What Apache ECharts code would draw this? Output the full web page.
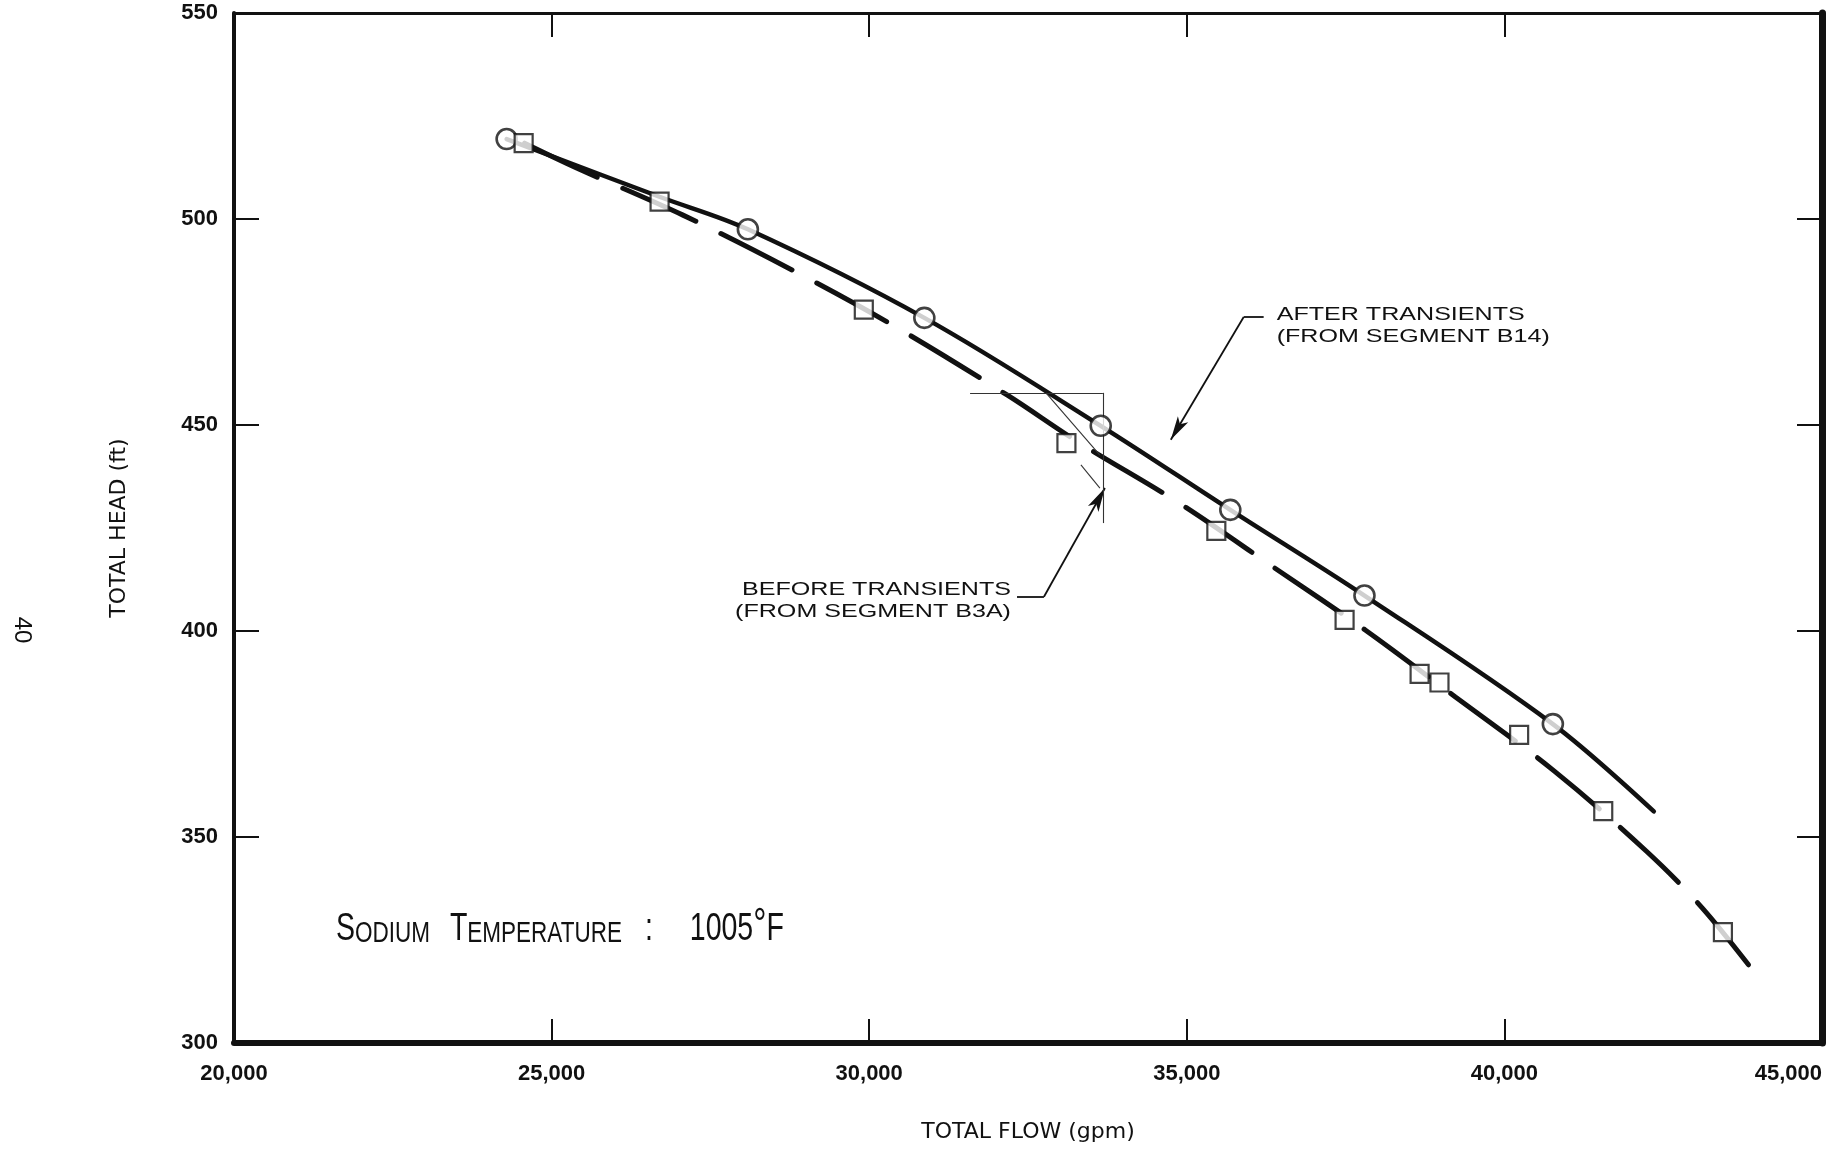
<!DOCTYPE html>
<html>
<head>
<meta charset="utf-8">
<script src="https://cdn.jsdelivr.net/npm/echarts@6/dist/echarts.min.js"></script>
<style>
  html, body { margin: 0; padding: 0; background: #ffffff; overflow: hidden; }
  #chart { width: 1836px; height: 1149px; }
</style>
</head>
<body>
<div id="chart"></div>
<script>
// ---- data ----
const xTicks = [20000, 25000, 30000, 35000, 40000, 45000];
const yTicks = [300, 350, 400, 450, 500, 550];

// measured points: after transients (circles)
const afterPoints = [[24292,519.4],[28090,497.5],[30868,476.0],[33645,449.8],[35685,429.4],[37797,408.6],[40763,377.4]];
// measured points: before transients (squares)
const beforePoints = [[24560,518.4],[26700,504.2],[29915,478.0],[33105,445.6],[35465,424.3],[37484,402.7],[38665,389.6],[38978,387.5],[40232,374.8],[41556,356.3],[43440,326.9]];

// faired curves as drawn
const afterCurve = [[24292,519.4],[26698,505.4],[28090,497.5],[30868,476.0],[33645,449.8],[35685,429.4],[37797,408.6],[40763,377.4],[42352,356.2]];
const beforeCurve = [[24575,518.4],[25393,512.4],[27060,501.0],[28789,487.6],[30362,474.3],[32170,457.3],[33286,445.9],[34874,431.1],[36383,415.3],[37814,400.2],[39229,384.0],[40786,366.0],[42232,346.6],[43113,332.8],[43993,316.0]];

// annotation leader lines (data coords)
const afterLeader = [[36210,476.2],[35896,476.2],[34748,446.4]];
const beforeLeader = [[32327,408.3],[32751,408.3],[33711,434.7]];
const sketchLines = [
  [[31588,457.8],[33679,457.8]],
  [[33679,457.8],[33679,426.2]],
  [[32783,457.8],[33632,442.7]],
  [[33333,440.3],[33632,434.7]]
];

const afterLabel = ['AFTER TRANSIENTS', '(FROM SEGMENT B14)'];
const beforeLabel = ['BEFORE TRANSIENTS', '(FROM SEGMENT B3A)'];
const afterLabelPos = [36415, 476.7];
const beforeLabelPos = [32232, 409.95];
const noteLabelPos = [21604, 327.7];

const chart = echarts.init(document.getElementById('chart'), null, { renderer: 'canvas' });

const FONT = 'Liberation Sans, Arial, Helvetica, sans-serif';
const ink = '#111111';

function leaderMarkData(pts) {
  const out = [];
  for (let i = 0; i < pts.length - 1; i++) {
    const last = i === pts.length - 2;
    out.push([
      { coord: pts[i], symbol: 'none' },
      { coord: pts[i + 1], symbol: last ? 'arrow' : 'none', symbolSize: [9, 24] }
    ]);
  }
  return out;
}

const baseX = {
  type: 'value', min: 20000, max: 45000, interval: 5000,
  splitLine: { show: false },
  axisTick: { inside: true, length: 24, lineStyle: { color: ink, width: 2 } }
};
const baseY = {
  type: 'value', min: 300, max: 550, interval: 50,
  splitLine: { show: false },
  axisTick: { inside: true, length: 25, lineStyle: { color: ink, width: 2 } }
};

chart.setOption({
  animation: false,
  backgroundColor: '#ffffff',
  grid: { left: 234, right: 14, top: 13, bottom: 106, containLabel: false, outerBoundsMode: 'none' },
  xAxis: [
    Object.assign({}, baseX, {
      position: 'bottom',
      axisLine: { onZero: false, lineStyle: { color: ink, width: 6 } },
      axisLabel: {
        margin: 20, fontSize: 22, fontWeight: 'bold', fontFamily: FONT, color: ink,
        showMinLabel: true, showMaxLabel: true, alignMaxLabel: 'right',
        formatter: v => v.toLocaleString('en-US')
      },
      name: 'TOTAL FLOW (gpm)', nameLocation: 'middle', nameGap: 78,
      nameTextStyle: { fontSize: 22, fontFamily: 'DejaVu Sans, sans-serif', color: ink }
    }),
    Object.assign({}, baseX, {
      position: 'top',
      axisLine: { onZero: false, lineStyle: { color: ink, width: 3 } },
      axisLabel: { show: false }
    })
  ],
  yAxis: [
    Object.assign({}, baseY, {
      position: 'left',
      axisLine: { onZero: false, lineStyle: { color: ink, width: 4 } },
      axisLabel: {
        margin: 16, fontSize: 22, fontWeight: 'bold', fontFamily: FONT, color: ink,
        showMinLabel: true, showMaxLabel: true
      },
      name: 'TOTAL HEAD (ft)', nameLocation: 'middle', nameGap: 104,
      nameTextStyle: { fontSize: 22, fontFamily: 'DejaVu Sans, sans-serif', color: ink }
    }),
    Object.assign({}, baseY, {
      position: 'right',
      axisLine: { onZero: false, lineStyle: { color: ink, width: 7 } },
      axisLabel: { show: false }
    })
  ],
  series: [
    {
      name: 'After transients (curve)', type: 'line', smooth: 0.35,
      data: afterCurve, showSymbol: false, symbol: 'none',
      lineStyle: { color: ink, width: 4.5, cap: 'round' },
      z: 2, silent: true,
      markLine: {
        silent: true, animation: false, symbol: ['none', 'none'],
        label: { show: false },
        lineStyle: { color: ink, width: 1.8, type: 'solid' },
        data: leaderMarkData(afterLeader).concat(leaderMarkData(beforeLeader))
      }
    },
    {
      name: 'Before transients (curve)', type: 'line', smooth: 0.35,
      data: beforeCurve, showSymbol: false, symbol: 'none',
      lineStyle: { color: ink, width: 5, type: [80, 28], cap: 'round' },
      z: 2, silent: true,
      markLine: {
        silent: true, animation: false, symbol: ['none', 'none'],
        label: { show: false },
        lineStyle: { color: '#333', width: 1.1, type: 'solid' },
        data: sketchLines.map(s => [{ coord: s[0] }, { coord: s[1] }])
      }
    },
    {
      name: 'After transients', type: 'scatter', data: afterPoints,
      symbol: 'circle', symbolSize: 20, z: 5,
      itemStyle: { color: '#ffffff', borderColor: ink, borderWidth: 2.6 }
    },
    {
      name: 'Before transients', type: 'scatter', data: beforePoints,
      symbol: 'rect', symbolSize: 18, z: 5,
      itemStyle: { color: '#ffffff', borderColor: ink, borderWidth: 2.2 }
    }
  ]
});

function px(p) { return chart.convertToPixel({ xAxisIndex: 0, yAxisIndex: 0 }, p); }

const aP = px(afterLabelPos);
const bP = px(beforeLabelPos);
const nP = px(noteLabelPos);
const pageLabel = '40';
const NS = 0.75;

chart.setOption({
  graphic: [
    {
      type: 'text', x: aP[0], y: aP[1] - 11, scaleX: 1.32, silent: true,
      style: {
        text: afterLabel.join('\n'), font: '19px ' + FONT, fill: ink,
        lineHeight: 22, align: 'left', verticalAlign: 'top'
      }
    },
    {
      type: 'text', x: bP[0], y: bP[1] - 11, scaleX: 1.32, silent: true,
      style: {
        text: beforeLabel.join('\n'), font: '19px ' + FONT, fill: ink,
        lineHeight: 22, align: 'right', verticalAlign: 'top'
      }
    },
    {
      type: 'text', x: nP[0], y: nP[1], scaleX: NS, silent: true,
      style: {
        text: '{b|S}{s|ODIUM}{g1| }{b|T}{s|EMPERATURE}{g2| }{b|:}{g3| }{b|1005}{d|°}{b|F}',
        fill: ink, align: 'left', verticalAlign: 'middle',
        rich: {
          b: { fontSize: 38, fontFamily: FONT, fill: ink, verticalAlign: 'bottom', lineHeight: 40 },
          s: { fontSize: 30, fontFamily: FONT, fill: ink, verticalAlign: 'bottom', lineHeight: 40 },
          d: { fontSize: 44, fontFamily: FONT, fill: ink, verticalAlign: 'bottom', lineHeight: 40 },
          g1: { fontSize: 30, width: 20 / NS, lineHeight: 40 },
          g2: { fontSize: 30, width: 23 / NS, lineHeight: 40 },
          g3: { fontSize: 30, width: 37 / NS, lineHeight: 40 }
        }
      }
    },
    {
      type: 'text', x: 22, y: 630, rotation: -Math.PI / 2, silent: true,
      style: { text: pageLabel, font: '24px ' + FONT, fill: ink, align: 'center', verticalAlign: 'middle' }
    }
  ]
});
</script>
</body>
</html>
